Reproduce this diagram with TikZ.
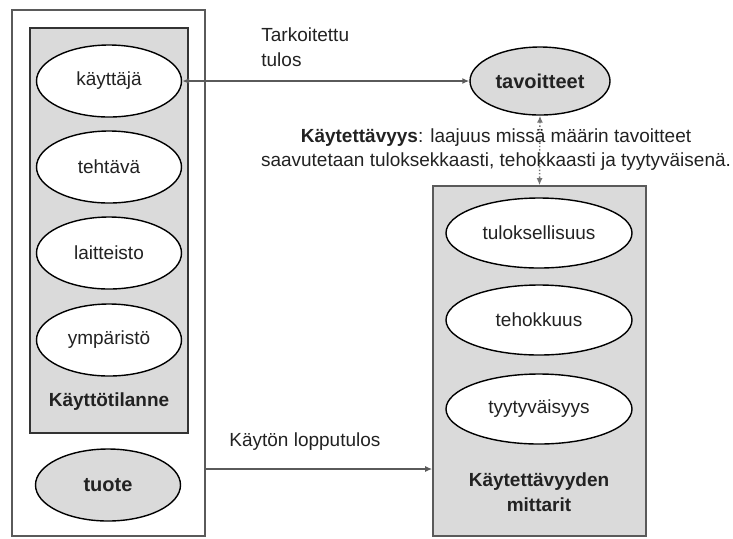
\documentclass[tikz,border=0pt]{standalone}
\usepackage{fontspec}
\setmainfont{Liberation Sans}
\usetikzlibrary{shapes.geometric,arrows.meta}
\definecolor{boxgrey}{HTML}{DADADA}
\definecolor{framegrey}{HTML}{5A5A5A}
\definecolor{textgrey}{HTML}{222222}
\tikzset{
  oval/.style={ellipse,draw,line width=0.7pt,fill=white,inner sep=0pt,
    minimum width=72.5pt,minimum height=36pt,text=textgrey},
  wideoval/.style={oval,minimum width=93pt,minimum height=35pt},
  greyoval/.style={oval,fill=boxgrey,font=\bfseries},
  label/.style={text=textgrey,align=left,inner sep=0pt},
  arr/.style={draw=framegrey,line width=0.7pt,-{Latex[length=3.5pt,width=3pt]}},
  biarr/.style={arr,{Latex[length=3.5pt,width=3pt]}-{Latex[length=3.5pt,width=3pt]}}
}
\begin{document}
\begin{tikzpicture}[x=0.5pt,y=-0.5pt,font=\fontsize{9.5}{12}\selectfont]
  \useasboundingbox (0,0) rectangle (733,538);
  % boxes
  \node[draw=framegrey,line width=0.8pt,minimum width=96.5pt,minimum height=263pt,
    inner sep=0pt] (tuotebox) at (108.5,273) {};
  \node[draw=black!80,fill=boxgrey,line width=1pt,minimum width=79pt,
    minimum height=202.5pt,inner sep=0pt] (tilanne) at (109,230.5) {};
  \node[draw=framegrey,fill=boxgrey,line width=0.8pt,minimum width=106.5pt,
    minimum height=175pt,inner sep=0pt] (mittarit) at (539.5,361) {};
  % left side
  \node[oval] (kayttaja) at (109,81) {käyttäjä};
  \node[oval] (tehtava) at (109,167) {tehtävä};
  \node[oval] (laitteisto) at (109,253) {laitteisto};
  \node[oval] (ymparisto) at (109,340) {ympäristö};
  \node[label,font=\fontsize{9.5}{12}\selectfont\bfseries] (tilanneteksti) at (109,402) {Käyttötilanne};
  \node[greyoval] (tuote) at (108,485) {tuote};
  % right side
  \node[greyoval,minimum width=70pt,minimum height=34pt] (tavoitteet) at (540,81) {tavoitteet};
  \node[wideoval] (tuloksellisuus) at (539,233) {tuloksellisuus};
  \node[wideoval] (tehokkuus) at (539,320) {tehokkuus};
  \node[wideoval] (tyytyvaisyys) at (539,409) {tyytyväisyys};
  \node[label,align=center,font=\fontsize{9.5}{12.5}\selectfont\bfseries]
    (mittariteksti) at (539,492) {Käytettävyyden\\mittarit};
  % connectors
  \draw[biarr] (kayttaja.east) -- (tavoitteet.west);
  \draw[biarr,densely dotted,draw=black!55] (tavoitteet.south) -- (mittarit.north);
  \draw[arr] (tuotebox.east |- 0,469) -- (mittarit.west |- 0,469);
  % texts
  \node[label,anchor=west,font=\fontsize{9.5}{12.5}\selectfont] (tarkoitettu) at (261,47) {Tarkoitettu\\tulos};
  \node[label,anchor=west] (lopputulos) at (229,442) {Käytön lopputulos};
  \node[label,align=center] (maaritelma) at (496,150)
    {\textbf{Käytettävyys}: laajuus missä määrin tavoitteet\\
     saavutetaan tuloksekkaasti, tehokkaasti ja tyytyväisenä.};
\end{tikzpicture}
\end{document}
